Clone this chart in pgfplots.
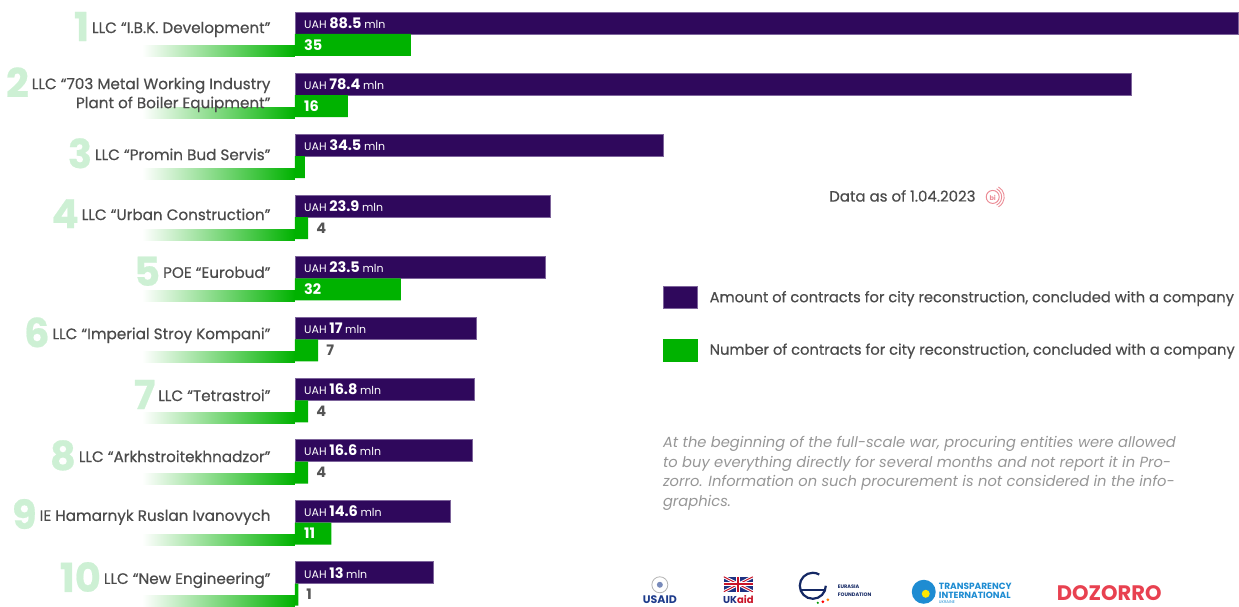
\documentclass[border=0pt]{standalone}
\usepackage{pgfplots}
\pgfplotsset{compat=1.18}
\usepackage{pgfplotstable}
\usepackage{fontspec}
\setmainfont{Poppins}
\newfontfamily\medfont[FakeBold=0.5]{Poppins}
\definecolor{purp}{RGB}{47,8,92}
\definecolor{purpedge}{RGB}{125,100,155}
\definecolor{grn}{RGB}{0,178,0}
\definecolor{rank}{RGB}{205,240,212}
\definecolor{lab}{RGB}{75,75,75}
\definecolor{note}{RGB}{150,150,150}
\definecolor{cntgray}{RGB}{85,85,85}
\definecolor{usaid}{RGB}{30,60,140}
\definecolor{ukblue}{RGB}{30,50,130}
\definecolor{ukred}{RGB}{200,20,40}
\definecolor{eurasia}{RGB}{20,40,100}
\definecolor{tiblue}{RGB}{30,140,210}
\definecolor{dozorro}{RGB}{232,65,80}
\definecolor{bipink}{RGB}{235,140,150}
\newcommand{\rk}[1]{\smash{\raisebox{-8pt}{\color{rank}\fontsize{40}{40}\selectfont\bfseries #1}}\hspace{3pt}}

\pgfplotstableread{
i amt cnt
1 88.5 35
2 78.4 16
3 34.5 3
4 23.9 4
5 23.5 32
6 17 7
7 16.8 4
8 16.6 4
9 14.6 11
10 13 1
}\data
\pgfplotstableread{
i cnt
1 35
2 16
5 32
9 11
}\cntin
\pgfplotstableread{
i cnt
4 4
6 7
7 4
8 4
10 1
}\cntout

\begin{document}
\begin{tikzpicture}
% decorative gradient tails
\begin{scope}[x=1pt,y=-1pt,shift={(0,605pt)}]
\foreach \k in {0,...,9}{
  \pgfmathsetmacro\cy{34+61.1*\k}
  \shade[left color=white, middle color=grn!22, right color=grn] (142,\cy+12) rectangle (295,\cy+23);
}
\end{scope}

\begin{axis}[at={(0,0)}, anchor=south west, scale only axis, width=1239pt, height=605pt,
  xmin=-27.656, xmax=88.5, ymin=0.4435, ymax=10.345, y dir=reverse, clip=false,
  axis line style={draw=none}, major tick length=0pt, xtick=\empty,
  ytick={0.925,1.997,2.971,3.953,4.902,5.934,6.916,7.914,8.912,9.943},
  yticklabels={\rk{1}LLC “I.B.K. Development”,
    \rk{2}LLC “703 Metal Working Industry\\Plant of Boiler Equipment”,
    \rk{3}LLC “Promin Bud Servis”,
    \rk{4}LLC “Urban Construction”,
    \rk{5}POE “Eurobud”,
    \rk{6}LLC “Imperial Stroy Kompani”,
    \rk{7}LLC “Tetrastroi”,
    \rk{8}LLC “Arkhstroitekhnadzor”,
    \rk{9}IE Hamarnyk Ruslan Ivanovych,
    \rk{10}LLC “New Engineering”},
  yticklabel style={anchor=east, align=right, xshift=274pt, text=lab, font=\medfont\fontsize{15.2}{19}\selectfont},
  legend style={at={(axis cs:34.5,5.124)}, anchor=north west, draw=none, fill=none, inner sep=0pt,
    row sep=30pt, font=\medfont\fontsize{14.7}{16}\selectfont, text=lab, cells={anchor=west},
    /tikz/every odd column/.append style={column sep=10pt}},
  legend cell align=left]
\addplot[xbar, bar width=22pt, fill=purp, draw=purpedge, line width=0.6pt,
  legend image code/.code={\filldraw[fill=purp, draw=purpedge, line width=0.6pt] (0pt,-11pt) rectangle (34pt,11pt);}]
  table[x=amt, y expr=\thisrow{i}-0.18]{\data};
\addlegendentry{Amount of contracts for city reconstruction, concluded with a company}
\addlegendimage{legend image code/.code={\fill[grn] (0pt,-11pt) rectangle (34pt,11pt);}}
\addlegendentry{Number of contracts for city reconstruction, concluded with a company}
\addplot[forget plot, only marks, mark=none, point meta=explicit symbolic,
  nodes near coords={{\fontsize{11}{12}\selectfont UAH} {\fontsize{14.5}{15}\selectfont\bfseries\pgfplotspointmeta} {\fontsize{11}{12}\selectfont mln}},
  every node near coord/.append style={anchor=west, xshift=7pt, text=white, inner sep=2pt}]
  table[x expr=0, y expr=\thisrow{i}-0.18, meta=amt]{\data};
\end{axis}

\begin{axis}[at={(0,0)}, anchor=south west, scale only axis, width=1239pt, height=605pt,
  xmin=-89.12, xmax=285.2, ymin=0.4435, ymax=10.345, y dir=reverse, clip=false, hide axis]
\addplot[xbar, bar width=22pt, fill=grn, draw=none]
  table[x=cnt, y expr=\thisrow{i}+0.18]{\data};
\addplot[only marks, mark=none, point meta=explicit symbolic,
  nodes near coords={\pgfplotspointmeta},
  every node near coord/.append style={anchor=west, xshift=7pt, text=white, inner sep=2pt, font=\fontsize{14.5}{15}\selectfont\bfseries}]
  table[x expr=0, y expr=\thisrow{i}+0.18, meta=cnt]{\cntin};
\addplot[only marks, mark=none, point meta=explicit symbolic,
  nodes near coords={\pgfplotspointmeta},
  every node near coord/.append style={anchor=west, xshift=6pt, text=cntgray, inner sep=2pt, font=\fontsize{14.5}{15}\selectfont\bfseries}]
  table[x=cnt, y expr=\thisrow{i}+0.18, meta=cnt]{\cntout};
\end{axis}

% annotations
\begin{scope}[x=1pt,y=-1pt,shift={(0,605pt)}]
\node[anchor=east, text=lab, font=\medfont\fontsize{15}{16}\selectfont, inner sep=0pt] at (976,196) {Data as of 1.04.2023};
\draw[bipink, line width=1pt] (993,197) circle (6.5);
\draw[bipink, line width=0.9pt] (993,197) ++(-65:9) arc (-65:65:9);
\draw[bipink, line width=0.9pt] (993,197) ++(-60:11.5) arc (-60:60:11.5);
\node[text=bipink, font=\fontsize{6.5}{8}\selectfont\bfseries, inner sep=0pt] at (993,198) {bi};
\node[anchor=north west, align=left, text=note, font=\fontsize{14.7}{19.8}\selectfont\itshape, inner sep=0pt] at (663,436)
  {At the beginning of the full-scale war, procuring entities were allowed\\
   to buy everything directly for several months and not report it in Pro-\\
   zorro. Information on such procurement is not considered in the info-\\
   graphics.};
% logos
\draw[gray!60, line width=0.8pt] (660,585) circle (8);
\fill[usaid!60] (660,585) circle (3);
\node[text=usaid, font=\fontsize{11}{12}\selectfont\bfseries, inner sep=0pt] at (660,600) {USAID};
\fill[ukblue] (724,577) rectangle (753,592);
\draw[white, line width=3pt] (724,577) -- (753,592) (724,592) -- (753,577);
\draw[ukred, line width=1pt] (724,577) -- (753,592) (724,592) -- (753,577);
\draw[white, line width=4pt] (738.5,577) -- (738.5,592) (724,584.5) -- (753,584.5);
\draw[ukred, line width=2.2pt] (738.5,577) -- (738.5,592) (724,584.5) -- (753,584.5);
\node[font=\fontsize{10}{11}\selectfont\bfseries, inner sep=0pt] at (738.5,600) {\textcolor{ukblue}{UK}\textcolor{ukred}{aid}};
\draw[eurasia, line width=2.2pt] (826,586) arc (0:300:13);
\draw[eurasia, line width=2pt] (801,590) -- (826,590);
\fill[orange] (828,600) circle (1.5);
\fill[red] (823,602) circle (1.5);
\fill[green!60!black] (818,603) circle (1.2);
\node[anchor=west, align=left, text=eurasia, font=\fontsize{5}{8}\selectfont\bfseries, inner sep=0pt] at (838,591) {EURASIA\\FOUNDATION};
\fill[tiblue] (924,592) circle (12);
\fill[yellow!90!orange] (926,594) circle (4);
\node[anchor=west, align=left, text=tiblue, font=\fontsize{9}{9}\selectfont\bfseries, inner sep=0pt] at (939,591) {TRANSPARENCY\\INTERNATIONAL};
\node[anchor=west, text=tiblue, font=\fontsize{4}{4}\selectfont, inner sep=0pt] at (939,602) {UKRAINE};
\node[anchor=west, text=dozorro, font=\fontsize{21}{22}\selectfont\bfseries, inner sep=0pt] at (1057,593) {DOZORRO};
\end{scope}
\end{tikzpicture}
\end{document}
